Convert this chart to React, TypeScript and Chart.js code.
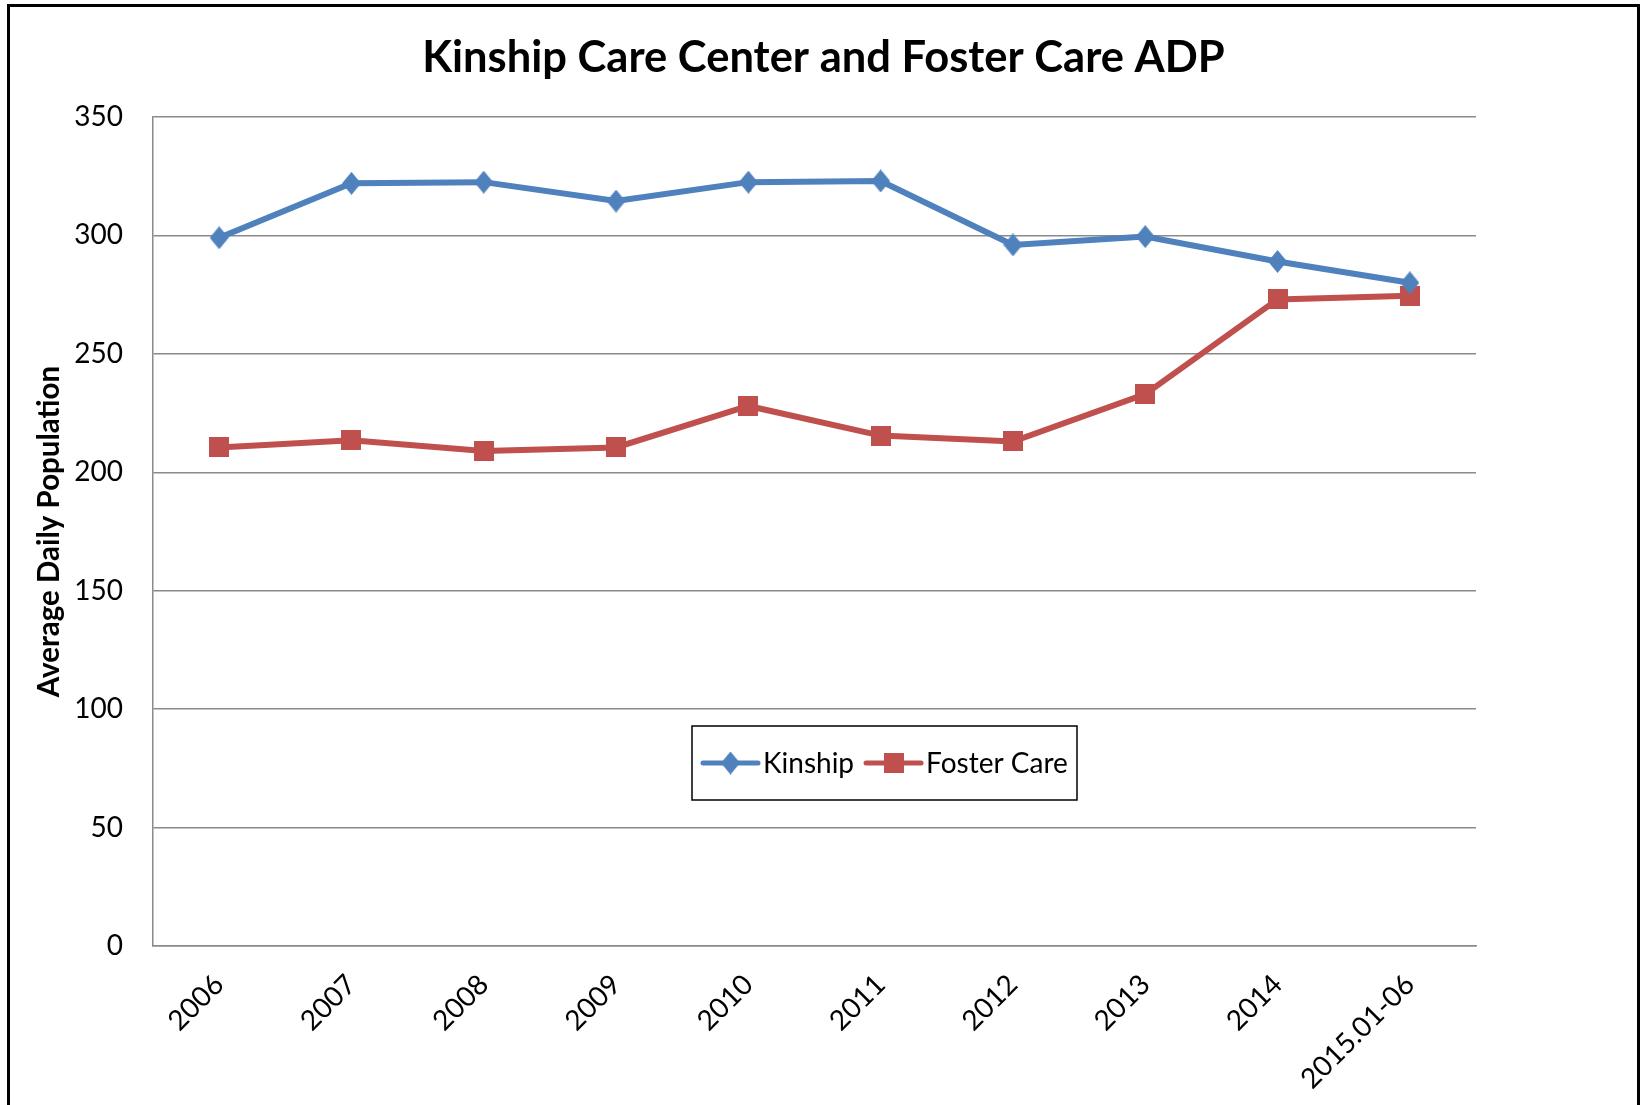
import React, { useEffect, useRef } from "react";
import { Chart, registerables } from "chart.js";

Chart.register(...registerables);

// ---- Data ----
const categories = ["2006", "2007", "2008", "2009", "2010", "2011", "2012", "2013", "2014", "2015.01-06"];
const kinship = [299, 322, 322.5, 314.5, 322.5, 323, 296, 299.5, 289, 280];
const fosterCare = [210.5, 213.5, 209, 210.5, 228, 215.5, 213, 233, 273, 274.5];
const yTickValues = [0, 50, 100, 150, 200, 250, 300, 350];
const seriesNames = ["Kinship", "Foster Care"];
const chartTitle = "Kinship Care Center and Foster Care ADP";
const yAxisTitle = "Average Daily Population";

// ---- Styles ----
const FONT = "Lato, 'Open Sans', 'DejaVu Sans', sans-serif";
const BLUE = "#4F81BD";
const RED = "#C0504D";
const GRID = "#8a8a8a";

function makeDiamond(w: number, h: number, color: string) {
  const c = document.createElement("canvas");
  c.width = w;
  c.height = h;
  const ctx = c.getContext("2d")!;
  ctx.fillStyle = color;
  ctx.beginPath();
  ctx.moveTo(w / 2, 0);
  ctx.lineTo(w, h / 2);
  ctx.lineTo(w / 2, h);
  ctx.lineTo(0, h / 2);
  ctx.closePath();
  ctx.fill();
  return c;
}

function makeSquare(s: number, color: string) {
  const c = document.createElement("canvas");
  c.width = s;
  c.height = s;
  const ctx = c.getContext("2d")!;
  ctx.fillStyle = color;
  ctx.fillRect(0, 0, s, s);
  return c;
}

const titlePlugin = {
  id: "customTitle",
  afterDraw(chart: any) {
    const ctx = chart.ctx;
    ctx.save();
    ctx.font = `bold 43.5px ${FONT}`;
    ctx.fillStyle = "#000";
    ctx.textAlign = "center";
    ctx.textBaseline = "alphabetic";
    ctx.fillText(chartTitle, 823.5, 72);
    ctx.restore();
  },
};

const legendPlugin = {
  id: "customLegend",
  afterDraw(chart: any) {
    const ctx: CanvasRenderingContext2D = chart.ctx;
    const boxLeft = 692;
    const boxTop = 726;
    const boxH = 74;
    const cy = boxTop + boxH / 2;
    ctx.save();
    ctx.font = `28px ${FONT}`;
    let x = boxLeft + 11;
    const items: any[] = [];
    chart.data.datasets.forEach((ds: any) => {
      const tw = ctx.measureText(ds.label).width;
      items.push({ ds, x });
      x += 55 + 5 + tw + 12;
    });
    const boxRight = Math.max(x - 12 + 6, 1077);
    ctx.fillStyle = "#fff";
    ctx.fillRect(boxLeft, boxTop, boxRight - boxLeft, boxH);
    ctx.strokeStyle = "#000";
    ctx.lineWidth = 1.5;
    ctx.strokeRect(boxLeft, boxTop, boxRight - boxLeft, boxH);
    items.forEach(({ ds, x: ix }) => {
      ctx.strokeStyle = ds.borderColor;
      ctx.lineWidth = 5;
      ctx.lineCap = "round";
      ctx.beginPath();
      ctx.moveTo(ix, cy);
      ctx.lineTo(ix + 55, cy);
      ctx.stroke();
      const img = ds.pointStyle as HTMLCanvasElement;
      ctx.drawImage(img, ix + 27.5 - img.width / 2, cy - img.height / 2);
      ctx.fillStyle = "#000";
      ctx.textAlign = "left";
      ctx.textBaseline = "middle";
      ctx.fillText(ds.label, ix + 60, cy + 1);
    });
    ctx.restore();
  },
};

export default function App() {
  const canvasRef = useRef<HTMLCanvasElement | null>(null);

  useEffect(() => {
    if (!canvasRef.current) return;
    const diamond = makeDiamond(19, 23, BLUE);
    const square = makeSquare(20, RED);
    const chart = new Chart(canvasRef.current, {
      type: "line",
      data: {
        labels: categories,
        datasets: [
          {
            label: seriesNames[0],
            data: kinship,
            borderColor: BLUE,
            backgroundColor: BLUE,
            pointBackgroundColor: BLUE,
            pointBorderColor: BLUE,
            pointStyle: diamond,
            pointRadius: 11,
            borderWidth: 6,
            tension: 0,
            fill: false,
          },
          {
            label: seriesNames[1],
            data: fosterCare,
            borderColor: RED,
            backgroundColor: RED,
            pointBackgroundColor: RED,
            pointBorderColor: RED,
            pointStyle: square,
            pointRadius: 11,
            borderWidth: 6,
            tension: 0,
            fill: false,
          },
        ],
      },
      options: {
        responsive: false,
        animation: false,
        devicePixelRatio: 1,
        layout: { padding: { left: 0, top: 117, right: 164, bottom: 0 } },
        plugins: {
          legend: { display: false },
          title: { display: false },
          tooltip: { enabled: false },
        },
        scales: {
          x: {
            type: "category",
            offset: true,
            grid: { display: false, drawTicks: false },
            border: { display: true, color: GRID, width: 1.5 },
            ticks: {
              autoSkip: false,
              minRotation: 45,
              maxRotation: 45,
              padding: 22,
              color: "#000",
              font: { family: FONT, size: 28 },
            },
            afterFit(scale: any) {
              scale.height = 159;
            },
          },
          y: {
            min: 0,
            max: 350,
            afterBuildTicks(scale: any) {
              scale.ticks = yTickValues.map((v) => ({ value: v }));
            },
            grid: { display: true, drawTicks: false, color: GRID, lineWidth: 1.5 },
            border: { display: true, color: GRID, width: 1.5 },
            ticks: {
              padding: 30,
              color: "#000",
              font: { family: FONT, size: 28 },
            },
            title: {
              display: true,
              text: yAxisTitle,
              color: "#000",
              font: { family: FONT, size: 29.5, weight: "bold" },
              padding: { top: 32, bottom: 0 },
            },
            afterFit(scale: any) {
              scale.width = 153;
            },
          },
        },
      },
      plugins: [titlePlugin, legendPlugin],
    } as any);
    return () => chart.destroy();
  }, []);

  return (
    <>
      <canvas
        ref={canvasRef}
        width={1640}
        height={1105}
        style={{ position: "fixed", left: 0, top: 0, width: 1640, height: 1105, background: "#fff" }}
      />
      <div
        style={{
          position: "fixed",
          left: 7,
          top: 4,
          width: 1633,
          height: 1130,
          border: "3px solid #000",
          boxSizing: "border-box",
          pointerEvents: "none",
        }}
      />
    </>
  );
}
